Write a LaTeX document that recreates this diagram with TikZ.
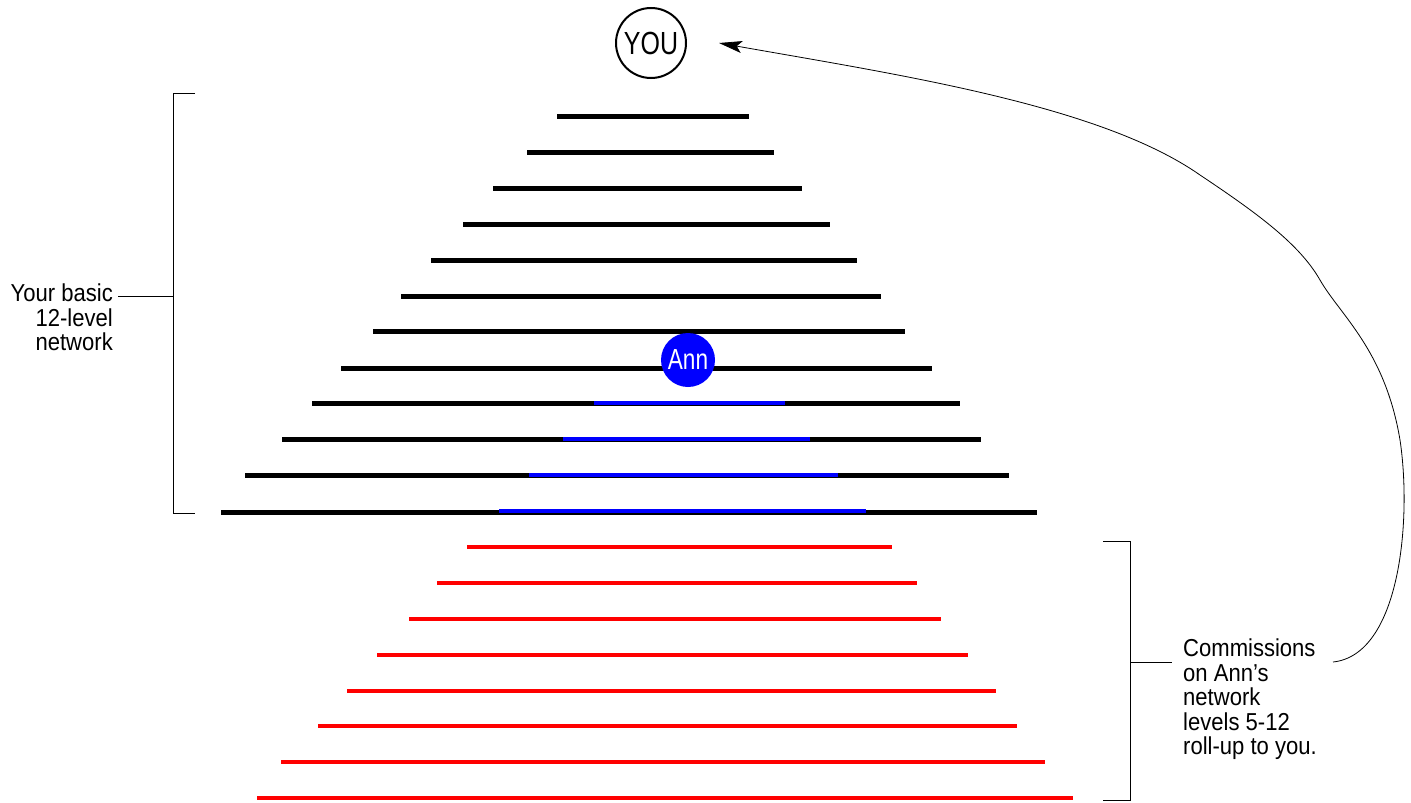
\documentclass[tikz,border=0pt]{standalone}
\usepackage{fontspec}
\setmainfont[FakeStretch=0.9]{Liberation Sans}
\newfontfamily\narrowfont[FakeStretch=0.78]{Liberation Sans}
\usepackage{tikz}
\usetikzlibrary{positioning, arrows.meta}
\usepackage{xcolor}
\definecolor{LvlBlack}{HTML}{000000}
\definecolor{AnnBlue} {HTML}{0000FF}
\definecolor{RollRed} {HTML}{FF0000}
\tikzset{
  every node/.style={font=\fontsize{24.5}{24.5}\selectfont},
  % network levels
  lvl/.style ={line width=5pt, draw=LvlBlack},
  ann/.style ={line width=4.5pt, draw=AnnBlue},
  roll/.style={line width=4.5pt, draw=RollRed},
  % circles
  you/.style ={circle, draw, line width=2pt, minimum size=70pt, inner sep=0pt,
               font=\narrowfont\fontsize{32}{32}\selectfont},
  sponsor/.style={circle, fill=AnnBlue, minimum size=54pt, inner sep=0pt,
               text=white, font=\narrowfont\fontsize{29}{29}\selectfont},
  lbl/.style ={inner sep=0pt},
  brk/.style ={line width=0.8pt},
}

\begin{document}
\begin{tikzpicture}[x=1pt, y=-1pt]
\useasboundingbox (0,0) rectangle (1411,803);

% your basic 12-level network
\foreach \y/\l/\r in {116/557/749, 152/527/774, 188/493/802, 224/463/830,
                      260/431/857, 296/401/881, 331/373/905, 368/341/932,
                      403/312/960, 439/282/981, 475/245/1009, 512/221/1037}
  \draw[lvl] (\l,\y) -- (\r,\y);

% Ann's levels inside yours
\foreach \y/\l/\r in {403/594/785, 439/563/810, 475/529/838, 511/499/866}
  \draw[ann] (\l,\y) -- (\r,\y);

% Ann's levels below yours
\foreach \y/\l/\r in {547/467/892, 583/437/917, 619/409/941, 655/377/968,
                      691/347/996, 726/318/1017, 762/281/1045, 798/257/1073}
  \draw[roll] (\l,\y) -- (\r,\y);

\node[you]     (you) at (651,43)  {YOU};
\node[sponsor] (ann) at (688,360) {Ann};

% labels
\node[lbl, align=right, anchor=north east] (basic) at (113,284)
  {Your basic\\12-level\\network};
\node[lbl, align=left, anchor=north west] (comm) at (1183,639)
  {Commissions\\on Ann’s\\network\\levels 5-12\\roll-up to you.};

% bracket (left side)
\coordinate (ltop) at (173,93);
\coordinate (lbot) at (173,513);
\coordinate (lmid) at (173,296);
\draw[brk] ([xshift=22pt]ltop) -- (ltop) -- (lbot) -- ([xshift=22pt]lbot);
\draw[brk] ([xshift=5pt]basic.east |- lmid) -- (lmid);

% bracket (right side)
\coordinate (rtop) at (1130,541);
\coordinate (rbot) at (1130,800);
\coordinate (rmid) at (1130,662);
\draw[brk] ([xshift=-27pt]rtop) -- (rtop) -- (rbot) -- ([xshift=-27pt]rbot);
\draw[brk] (rmid) -- ([xshift=-11pt]comm.west |- rmid);

% roll-up arrow
\coordinate (cstart) at (1333,662);
\draw[line width=0.8pt, -{Stealth[length=23pt, width=12pt, inset=5pt]}]
  (cstart) .. controls (1400,655) and (1412,520) .. (1400,440)
           .. controls (1385,350) and (1340,315) .. (1320,280)
           .. controls (1300,245) and (1260,215) .. (1200,175)
           .. controls (1100,105) and (900,75) .. ([xshift=32pt]you.east);

\end{tikzpicture}
\end{document}
